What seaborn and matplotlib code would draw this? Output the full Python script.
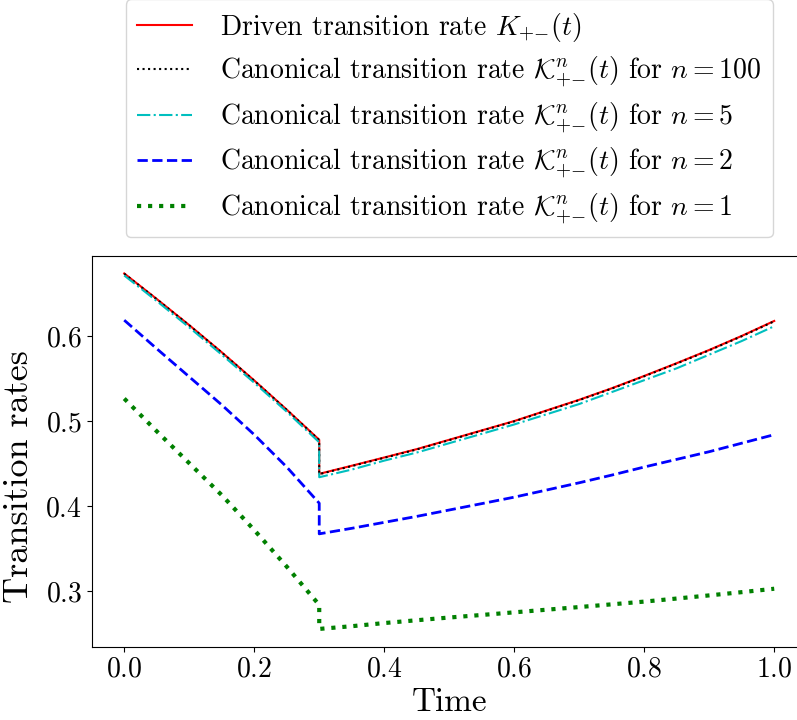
"""Driven vs canonical transition rates over time."""

import matplotlib

matplotlib.use("Agg")
import matplotlib.pyplot as plt
import seaborn as sns

# time grid: the jump at t = 0.3 is stored as two points with the same time
TIME = [0.0, 0.05, 0.10, 0.15, 0.20, 0.25, 0.30,
        0.30, 0.35, 0.40, 0.45, 0.50, 0.55, 0.60, 0.65,
        0.70, 0.75, 0.80, 0.85, 0.90, 0.95, 1.00]

DRIVEN = [0.6734, 0.6434, 0.6127, 0.5808, 0.5477, 0.5134, 0.4780,
          0.4380, 0.4475, 0.4572, 0.4670, 0.4780, 0.4890, 0.5000, 0.5125,
          0.5250, 0.5385, 0.5530, 0.5680, 0.5835, 0.6000, 0.6176]

CANON_100 = [0.6731, 0.6431, 0.6124, 0.5805, 0.5474, 0.5131, 0.4776,
             0.4376, 0.4471, 0.4568, 0.4666, 0.4776, 0.4886, 0.4996, 0.5121,
             0.5246, 0.5381, 0.5526, 0.5676, 0.5831, 0.5996, 0.6172]

CANON_5 = [0.6710, 0.6410, 0.6100, 0.5780, 0.5450, 0.5110, 0.4750,
           0.4340, 0.4430, 0.4535, 0.4630, 0.4740, 0.4850, 0.4960, 0.5080,
           0.5200, 0.5340, 0.5480, 0.5620, 0.5780, 0.5940, 0.6114]

CANON_2 = [0.6185, 0.5850, 0.5520, 0.5190, 0.4840, 0.4460, 0.4035,
           0.3675, 0.3740, 0.3810, 0.3880, 0.3955, 0.4030, 0.4106, 0.4190,
           0.4275, 0.4365, 0.4460, 0.4550, 0.4640, 0.4740, 0.4840]

CANON_1 = [0.5264, 0.4880, 0.4505, 0.4130, 0.3720, 0.3290, 0.2840,
           0.2558, 0.2590, 0.2627, 0.2660, 0.2692, 0.2722, 0.2753, 0.2784,
           0.2815, 0.2847, 0.2879, 0.2915, 0.2952, 0.2990, 0.3030]

LABELS = [
    r"Driven transition rate $K_{+{-}}(t)$",
    r"Canonical transition rate $\mathcal{K}_{+{-}}^{n}(t)$ for $n = 100$",
    r"Canonical transition rate $\mathcal{K}_{+{-}}^{n}(t)$ for $n = 5$",
    r"Canonical transition rate $\mathcal{K}_{+{-}}^{n}(t)$ for $n = 2$",
    r"Canonical transition rate $\mathcal{K}_{+{-}}^{n}(t)$ for $n = 1$",
]

SERIES = [DRIVEN, CANON_100, CANON_5, CANON_2, CANON_1]
STYLES = [
    {"color": "r", "linestyle": "-", "linewidth": 1.5},
    {"color": "k", "linestyle": ":", "linewidth": 1.5},
    {"color": "c", "linestyle": "-.", "linewidth": 1.5},
    {"color": "b", "linestyle": "--", "linewidth": 2.0},
    {"color": "g", "linestyle": ":", "linewidth": 3.0},
]

plt.rcParams["font.family"] = "serif"
plt.rcParams["font.serif"] = ["cmr10", "DejaVu Serif"]
plt.rcParams["mathtext.fontset"] = "cm"
plt.rcParams["axes.formatter.use_mathtext"] = True
plt.rcParams["axes.unicode_minus"] = False

fig = plt.figure(figsize=(7.97, 7.2), dpi=100)
ax = fig.add_axes([0.1151, 0.1018, 0.8971, 0.5431])

for values, label, style in zip(SERIES, LABELS, STYLES):
    sns.lineplot(x=TIME, y=values, estimator=None, sort=False, label=label, ax=ax, **style)

ax.set_xlabel("Time", fontsize=24)
ax.set_ylabel("Transition rates", fontsize=26)
ax.yaxis.set_label_coords(-0.08, 0.434)
ax.tick_params(labelsize=20)
ax.legend(loc="lower center", bbox_to_anchor=(0.5, 1.012), fontsize=20,
          labelspacing=0.4, handletextpad=1.0)

fig.savefig("out.png", dpi=100)
